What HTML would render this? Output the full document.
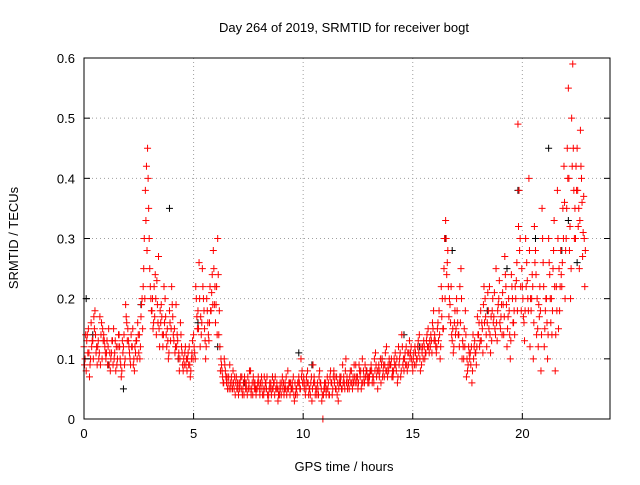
<!DOCTYPE html>
<html><head><meta charset="utf-8"><style>
html,body{margin:0;padding:0;background:#fff;}
svg text{font-family:"Liberation Sans",sans-serif;font-size:13px;fill:#000;}
</style></head><body>
<svg id="chart" width="640" height="480" viewBox="0 0 640 480" xmlns="http://www.w3.org/2000/svg">
<rect x="0" y="0" width="640" height="480" fill="#fff"/>
<g id="grid"></g>
<g id="marks"></g>
<rect x="84" y="58" width="526" height="361" fill="none" stroke="#000" stroke-width="1"/>
<g id="ticks"></g>
<text x="344" y="32" text-anchor="middle">Day 264 of 2019, SRMTID for receiver bogt</text>
<text x="344" y="471" text-anchor="middle">GPS time / hours</text>
<text x="18" y="238" text-anchor="middle" transform="rotate(-90 18 238)">SRMTID / TECUs</text>
</svg>
<script>
const xTicks=[0,5,10,15,20];
const yTicks=[0,0.1,0.2,0.3,0.4,0.5,0.6];
const yTickLabels=["0","0.1","0.2","0.3","0.4","0.5","0.6"];
const hours=[0,0.1,0.2,0.3,0.4,0.5,0.6,0.7,0.8,0.9,1,1.1,1.2,1.3,1.4,1.5,1.6,1.7,1.8,1.9,2,2.1,2.2,2.3,2.4,2.5,2.6,2.7,2.8,2.9,3,3.1,3.2,3.3,3.4,3.5,3.6,3.7,3.8,3.9,4,4.1,4.2,4.3,4.4,4.5,4.6,4.7,4.8,4.9,5,5.1,5.2,5.3,5.4,5.5,5.6,5.7,5.8,5.9,6,6.1,6.2,6.3,6.4,6.5,6.6,6.7,6.8,6.9,7,7.1,7.2,7.3,7.4,7.5,7.6,7.7,7.8,7.9,8,8.1,8.2,8.3,8.4,8.5,8.6,8.7,8.8,8.9,9,9.1,9.2,9.3,9.4,9.5,9.6,9.7,9.8,9.9,10,10.1,10.2,10.3,10.4,10.5,10.6,10.7,10.8,10.9,11,11.1,11.2,11.3,11.4,11.5,11.6,11.7,11.8,11.9,12,12.1,12.2,12.3,12.4,12.5,12.6,12.7,12.8,12.9,13,13.1,13.2,13.3,13.4,13.5,13.6,13.7,13.8,13.9,14,14.1,14.2,14.3,14.4,14.5,14.6,14.7,14.8,14.9,15,15.1,15.2,15.3,15.4,15.5,15.6,15.7,15.8,15.9,16,16.1,16.2,16.3,16.4,16.5,16.6,16.7,16.8,16.9,17,17.1,17.2,17.3,17.4,17.5,17.6,17.7,17.8,17.9,18,18.1,18.2,18.3,18.4,18.5,18.6,18.7,18.8,18.9,19,19.1,19.2,19.3,19.4,19.5,19.6,19.7,19.8,19.9,20,20.1,20.2,20.3,20.4,20.5,20.6,20.7,20.8,20.9,21,21.1,21.2,21.3,21.4,21.5,21.6,21.7,21.8,21.9,22,22.1,22.2,22.3,22.4,22.5,22.6,22.7,22.8];
const redA=[.12,.08,.15,.10,.13,.18,.09,.11,.16,.14,.10,.12,.08,.13,.11,.09,.14,.07,.12,.19,.15,.10,.12,.08,.13,.11,.17,.22,.38,.45,.25,.18,.22,.14,.27,.16,.12,.20,.15,.18,.22,.13,.19,.10,.16,.09,.11,.08,.12,.10,.14,.22,.18,.12,.25,.15,.20,.13,.18,.28,.16,.30,.12,.08,.10,.06,.07,.05,.08,.04,.06,.05,.07,.04,.06,.05,.08,.04,.06,.05,.05,.07,.04,.06,.03,.05,.07,.04,.06,.05,.04,.06,.05,.08,.04,.06,.03,.05,.07,.10,.06,.04,.08,.05,.03,.07,.05,.04,.06,.00,.05,.07,.04,.06,.08,.05,.03,.06,.09,.05,.07,.05,.08,.06,.09,.05,.07,.10,.06,.08,.06,.09,.07,.11,.05,.08,.10,.07,.12,.08,.09,.07,.11,.06,.10,.14,.08,.12,.09,.11,.08,.12,.10,.14,.09,.13,.11,.15,.12,.16,.14,.12,.18,.22,.15,.33,.28,.19,.13,.16,.20,.14,.25,.12,.18,.08,.10,.06,.12,.09,.14,.18,.11,.20,.16,.22,.13,.17,.25,.19,.15,.21,.27,.12,.18,.24,.16,.20,.49,.30,.22,.13,.26,.40,.18,.10,.28,.15,.22,.35,.12,.20,.30,.16,.25,.08,.38,.18,.22,.42,.30,.55,.20,.59,.35,.45,.25,.40,.37];
const redB=[.10,.14,.07,.12,.17,.11,.13,.09,.15,.12,.13,.09,.11,.15,.08,.12,.10,.13,.09,.16,.12,.14,.09,.11,.16,.10,.20,.30,.42,.35,.20,.15,.24,.19,.12,.17,.22,.14,.10,.13,.17,.11,.14,.08,.12,.10,.09,.11,.07,.13,.11,.17,.26,.14,.20,.10,.16,.22,.24,.19,.22,.14,.10,.06,.08,.05,.09,.06,.05,.07,.04,.07,.05,.06,.04,.08,.05,.06,.04,.07,.06,.04,.05,.07,.05,.04,.06,.05,.03,.06,.07,.05,.04,.06,.05,.07,.04,.06,.05,.08,.05,.07,.04,.06,.09,.04,.06,.08,.03,.05,.04,.06,.08,.05,.07,.04,.06,.05,.07,.10,.06,.08,.05,.07,.06,.09,.05,.08,.07,.06,.08,.06,.10,.07,.09,.06,.08,.11,.07,.09,.07,.10,.08,.12,.07,.09,.11,.08,.13,.10,.11,.09,.13,.08,.12,.10,.14,.11,.13,.18,.12,.16,.10,.20,.30,.24,.17,.22,.11,.14,.16,.22,.10,.15,.07,.12,.09,.14,.11,.17,.12,.16,.22,.14,.18,.11,.20,.15,.13,.23,.19,.14,.22,.17,.10,.20,.14,.26,.38,.18,.17,.30,.20,.12,.24,.32,.14,.19,.08,.26,.18,.10,.24,.14,.33,.22,.15,.28,.35,.20,.45,.28,.50,.38,.42,.32,.48,.27,.22];
const redC=[.09,.13,.11,.16,.10,.14,.12,.17,.10,.13,.11,.15,.10,.09,.13,.10,.12,.08,.14,.17,.13,.09,.15,.12,.10,.14,.19,.25,.33,.40,.22,.20,.17,.23,.15,.19,.14,.17,.13,.16,.19,.15,.12,.11,.14,.08,.12,.10,.09,.11,.12,.20,.15,.17,.22,.13,.18,.16,.21,.25,.19,.24,.08,.07,.09,.07,.05,.07,.06,.06,.05,.06,.04,.07,.05,.06,.04,.07,.05,.06,.04,.06,.07,.05,.04,.06,.05,.07,.05,.04,.06,.04,.07,.05,.06,.05,.06,.04,.06,.07,.07,.05,.06,.04,.05,.06,.04,.07,.05,.04,.06,.05,.07,.04,.06,.07,.05,.07,.06,.08,.05,.07,.06,.09,.07,.06,.08,.06,.09,.07,.07,.08,.06,.09,.08,.10,.07,.09,.08,.10,.10,.08,.09,.07,.11,.12,.10,.09,.11,.12,.10,.11,.12,.10,.11,.12,.13,.12,.14,.15,.13,.15,.14,.17,.25,.30,.22,.16,.15,.18,.18,.12,.20,.10,.14,.09,.11,.08,.13,.12,.16,.13,.19,.17,.21,.14,.18,.21,.16,.20,.17,.19,.24,.15,.14,.22,.18,.23,.32,.22,.20,.18,.23,.28,.20,.16,.24,.12,.18,.30,.15,.16,.26,.20,.28,.14,.30,.22,.26,.36,.35,.40,.25,.45,.30,.38,.33,.36,.30];
const redD=[.14,.11,.09,.13,.15,.12,.10,.14,.13,.11,.09,.11,.13,.10,.12,.14,.09,.11,.10,.13,.11,.12,.10,.13,.14,.12,.15,.20,.28,.30,.18,.16,.20,.16,.18,.14,.16,.12,.11,.15,.14,.12,.13,.10,.11,.09,.10,.09,.08,.10,.10,.15,.20,.16,.18,.12,.14,.18,.19,.22,.14,.18,.09,.06,.07,.06,.06,.05,.07,.05,.06,.05,.06,.05,.07,.05,.06,.05,.05,.06,.05,.05,.06,.04,.06,.05,.06,.05,.04,.05,.05,.06,.05,.06,.05,.04,.05,.06,.05,.06,.06,.06,.05,.07,.06,.05,.05,.06,.04,.06,.05,.04,.06,.07,.05,.06,.07,.05,.06,.06,.06,.06,.07,.06,.07,.08,.06,.07,.08,.07,.08,.07,.08,.08,.07,.09,.09,.08,.09,.09,.08,.09,.10,.09,.08,.10,.09,.11,.10,.09,.09,.10,.11,.12,.10,.11,.12,.13,.11,.13,.11,.13,.12,.15,.20,.26,.20,.14,.12,.15,.14,.16,.13,.12,.10,.11,.12,.10,.11,.14,.13,.15,.16,.12,.15,.17,.16,.14,.18,.16,.14,.17,.19,.20,.13,.16,.22,.18,.28,.25,.16,.22,.18,.20,.22,.26,.20,.17,.14,.22,.20,.14,.20,.18,.22,.18,.25,.24,.30,.28,.40,.32,.42,.30,.38,.35,.42,.31,.28];
const blackHours=[0.1,0.4,1.1,1.8,2.6,3.9,4.3,5.2,6.1,7.3,8.6,9.8,10.4,11.7,12.9,13.6,14.6,15.3,16.5,16.8,18.4,19.3,19.8,20.6,21.2,21.8,22.1,22.5];
const blackVals=[.20,.14,.09,.05,.19,.35,.10,.16,.12,.06,.07,.11,.09,.06,.08,.10,.14,.12,.30,.28,.18,.25,.38,.30,.45,.28,.33,.26];

const X0=84,X1=610,Y0=419,Y1=58,XMAX=24,YMAX=0.6;
function xs(h){return X0+(X1-X0)*h/XMAX;}
function ys(v){return Y0-(Y0-Y1)*v/YMAX;}
const NS="http://www.w3.org/2000/svg";
const grid=document.getElementById('grid'),ticks=document.getElementById('ticks'),marks=document.getElementById('marks');
function mk(tag,attrs,parent){const e=document.createElementNS(NS,tag);for(const k in attrs)e.setAttribute(k,attrs[k]);parent.appendChild(e);return e;}
xTicks.forEach(t=>{
  const x=xs(t);
  if(t>0){const g=mk('line',{x1:x,y1:Y0,x2:x,y2:Y1,stroke:'#a0a0a0','stroke-dasharray':'1,3'},grid);
  
  }
  const tk=mk('line',{x1:x,y1:Y0,x2:x,y2:Y0-6,stroke:'#000'},ticks);
  
  
  const tl=mk('text',{x:x,y:Y0+19,'text-anchor':'middle'},ticks);tl.textContent=String(t);
  
  
});
yTicks.forEach((v,i)=>{
  const y=ys(v);
  if(i>0&&i<yTicks.length-1){const g=mk('line',{x1:X0,y1:y,x2:X1,y2:y,stroke:'#a0a0a0','stroke-dasharray':'1,3'},grid);
  
  }
  const tk=mk('line',{x1:X0,y1:y,x2:X0+6,y2:y,stroke:'#000'},ticks);
  
  
  const tk2=mk('line',{x1:X1,y1:y,x2:X1-6,y2:y,stroke:'#000'},ticks);
  
  
  const tl=mk('text',{x:X0-9,y:y+5,'text-anchor':'end'},ticks);tl.textContent=yTickLabels[i];
  
  
});
function plus(h,v,col,name){
  const x=xs(h),y=ys(v);
  const p=mk('path',{d:`M${x-3.5} ${y}H${x+3.5}M${x} ${y-3.5}V${y+3.5}`,stroke:col,'stroke-width':1,fill:'none'},marks);
  
  
}
blackHours.forEach((h,i)=>plus(h,blackVals[i],'#000','black-point'));
hours.forEach((h,i)=>{plus(h,redA[i],'#ff0000','red-point');});
hours.forEach((h,i)=>{plus(h+0.025,redC[i],'#ff0000','red-point');});
hours.forEach((h,i)=>{plus(h+0.05,redB[i],'#ff0000','red-point');});
hours.forEach((h,i)=>{plus(h+0.075,redD[i],'#ff0000','red-point');});
</script>
</body></html>
